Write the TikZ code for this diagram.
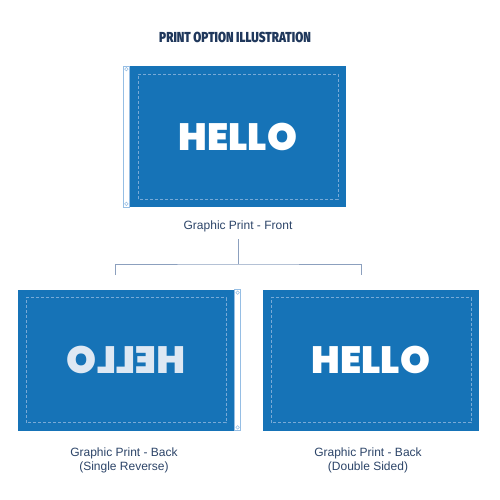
\documentclass[tikz,border=0pt]{standalone}
\usepackage{fontspec}
\setmainfont{Liberation Sans}
\IfFontExistsTF{Fira Sans ExtraBold}{\newfontfamily\titlefont{Fira Sans ExtraBold}}{\newfontfamily\titlefont{Fira Sans}}
\IfFontExistsTF{Poppins ExtraBold}{\newfontfamily\hellofont{Poppins ExtraBold}}{\newfontfamily\hellofont{Poppins}}
\usepackage{tikz}
\usetikzlibrary{positioning}
\definecolor{flagblue}{RGB}{22,115,183}
\definecolor{hemblue}{RGB}{150,190,228}
\definecolor{dashblue}{RGB}{120,170,215}
\definecolor{titlenavy}{RGB}{32,56,92}
\definecolor{labelnavy}{RGB}{44,68,104}
\definecolor{linegray}{RGB}{140,160,190}
\definecolor{ghostwhite}{RGB}{222,232,243}

\begin{document}
\begin{tikzpicture}[x=1pt,y=-1pt,
  flag/.style={rectangle,fill=flagblue,minimum width=216pt,minimum height=141pt,inner sep=0pt,
    path picture={\draw[dashblue,line width=0.6pt,dash pattern=on 3pt off 2pt]
      ([shift={(8pt,8pt)}]path picture bounding box.south west) rectangle
      ([shift={(-8pt,-8pt)}]path picture bounding box.north east);}},
  hem/.style={rectangle,draw=hemblue,fill=white,line width=0.8pt,
              minimum width=6pt,minimum height=141pt,inner sep=0pt},
  grommet/.style={circle,draw=hemblue,fill=white,line width=0.6pt,minimum size=3.5pt,inner sep=0pt},
  hello/.style={font=\hellofont\bfseries\fontsize{38}{38}\selectfont},
  caption/.style={font=\fontsize{12}{14}\selectfont,text=labelnavy,align=center,inner sep=0pt},
  tree/.style={linegray,line width=0.9pt},
]
\useasboundingbox (0,0) rectangle (500,500);
\node[font=\titlefont\bfseries\fontsize{14.5}{14.5}\selectfont,text=titlenavy] (title) at (235,37)
  {\scalebox{0.8}[1]{PRINT OPTION ILLUSTRATION}};

% front view
\node[flag,hello,text=white] (front) at (238,136.5) {HELLO};
\node[hem,anchor=east] (fronthem) at (front.west) {};
\node[grommet] (fronttop) at ([yshift=-3.5pt]fronthem.north) {};
\node[grommet] (frontbot) at ([yshift=3.5pt]fronthem.south) {};
\node[caption,below=13.5pt of front] (frontlbl) {Graphic Print - Front};

% back views
\node[flag,hello,text=ghostwhite] (rev) at (126,360) {\scalebox{-1}[1]{HELLO}};
\node[hem,anchor=west] (revhem) at (rev.east) {};
\node[grommet] (revtop) at ([yshift=-3.5pt]revhem.north) {};
\node[grommet] (revbot) at ([yshift=3.5pt]revhem.south) {};
\node[caption,below=17pt of rev,xshift=-2pt] (revlbl) {Graphic Print - Back\\(Single Reverse)};

\node[flag,hello,text=white] (dbl) at (371,360) {HELLO};
\node[caption,below=17pt of dbl,xshift=-3pt] (dbllbl) {Graphic Print - Back\\(Double Sided)};

% connector
\coordinate (split) at (238,264);
\coordinate (dropL) at (115,275);
\coordinate (dropR) at (361,275);
\draw[tree,shorten <=7pt] (frontlbl) -- (split);
\draw[tree] (dropL) |- (split) -| (dropR);
\end{tikzpicture}
\end{document}
